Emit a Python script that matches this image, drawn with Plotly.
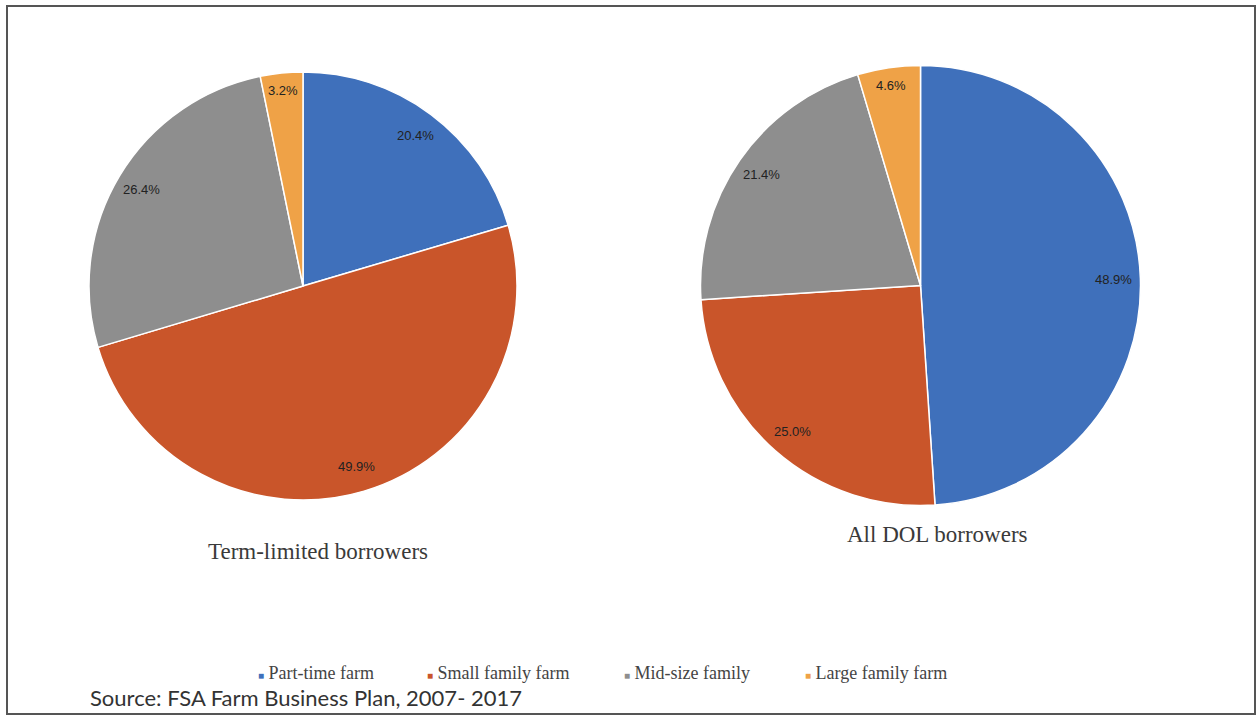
import math
import plotly.graph_objects as go

# Farm-size categories and shares (%) for each borrower group
categories = ["Part-time farm", "Small family farm", "Mid-size family", "Large family farm"]
term_limited = [20.4, 49.9, 26.4, 3.2]
all_dol = [48.9, 25.0, 21.4, 4.6]
group_titles = ["Term-limited borrowers", "All DOL borrowers"]
source_note = "Source: FSA Farm Business Plan, 2007- 2017"

colors = ["#3f70bb", "#c9552a", "#8e8e8e", "#efa247"]

W, H = 1258, 717

# pie placement in pixels: (centre x, centre y, radius)
pies = [(303, 286, 214), (920.5, 285.5, 220)]


def px_x(x):
    return x / W


def px_y(y):
    return 1 - y / H


def note(x, y, text, font, xanchor="center"):
    return dict(x=px_x(x), y=px_y(y), xref="paper", yref="paper",
                xanchor=xanchor, yanchor="middle", text=text,
                showarrow=False, font=font)


fig = go.Figure()
annotations = []

for (cx, cy, r), values in zip(pies, [term_limited, all_dol]):
    fig.add_trace(go.Pie(
        labels=categories,
        values=values,
        sort=False,
        direction="clockwise",
        rotation=0,
        textinfo="none",
        hoverinfo="label+value",
        marker=dict(colors=colors, line=dict(color="white", width=1.5)),
        domain=dict(x=[px_x(cx - r), px_x(cx + r)], y=[px_y(cy + r), px_y(cy - r)]),
        showlegend=False,
    ))
    # value labels near the outer edge of each slice
    total = sum(values)
    cum = 0.0
    for v in values:
        mid = (cum + v / 2) / total * 2 * math.pi
        cum += v
        f = 0.88 if v / total > 0.06 else 0.92
        lx = cx + f * r * math.sin(mid)
        ly = cy - f * r * math.cos(mid)
        annotations.append(note(lx, ly, f"{v:.1f}%",
                                dict(family="Liberation Sans", size=13, color="#222222")))

# group titles beneath the pies
title_font = dict(family="Liberation Serif", size=23, color="#3a3a3a")
annotations.append(note(318, 551, group_titles[0], title_font))
annotations.append(note(937, 534, group_titles[1], title_font))

# legend row
legend_x = [256, 425, 622, 803]
for name, col, lx in zip(categories, colors, legend_x):
    annotations.append(note(
        lx, 673,
        f"<span style='color:{col}; font-size:10px'>■</span> {name}",
        dict(family="Liberation Serif", size=18, color="#444444"),
        xanchor="left",
    ))

# source note
annotations.append(note(88, 697, source_note,
                        dict(family="Lato", size=22, color="#333333"), xanchor="left"))

fig.update_layout(
    width=W, height=H,
    margin=dict(l=0, r=0, t=0, b=0),
    paper_bgcolor="white",
    annotations=annotations,
    shapes=[dict(type="rect", xref="paper", yref="paper",
                 x0=px_x(7), x1=px_x(1255), y0=px_y(714), y1=px_y(6),
                 line=dict(color="#555555", width=2))],
)

fig.write_html("out.html")
